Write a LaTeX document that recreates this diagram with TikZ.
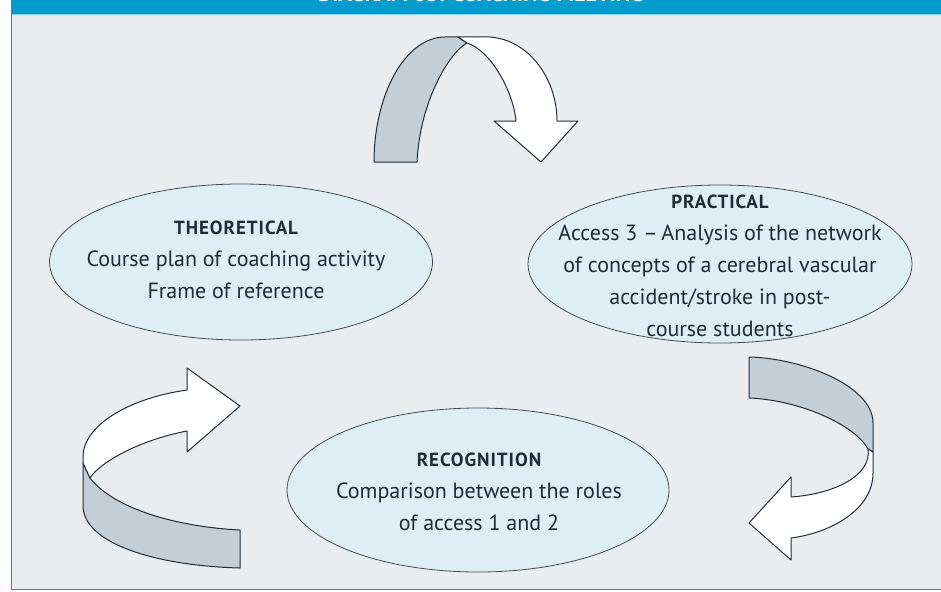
\documentclass[tikz,border=0pt]{standalone}
\usepackage{fontspec}
\setmainfont{PT Sans}
\usetikzlibrary{shapes.geometric}

\definecolor{hdr}{HTML}{009CCB}
\definecolor{hdrline}{HTML}{8FD0E6}
\definecolor{panel}{HTML}{E9EDF0}
\definecolor{bubblefill}{HTML}{DDEEF5}
\definecolor{ink}{HTML}{1E2B38}
\definecolor{band}{HTML}{C4CED6}
\definecolor{edge}{HTML}{1F2D3A}

\tikzset{
  bubble/.style={ellipse, draw=edge!85, line width=0.8pt, fill=bubblefill, inner sep=0pt},
  txt/.style={align=center, text=ink, inner sep=0pt, font=\fontsize{22}{32}\selectfont},
  backside/.style={fill=band, draw=edge, line width=1pt, line join=round},
  frontside/.style={fill=white, draw=edge, line width=1pt, line join=round},
}
\newcommand{\heading}[1]{{\bfseries\fontsize{19}{20}\selectfont\addfontfeatures{LetterSpace=5}#1}}

\begin{document}
\begin{tikzpicture}[x=1pt, y=-1pt]
  \useasboundingbox (0,0) rectangle (941,591);

  % panel and frame
  \fill[panel] (11.5,14) rectangle (941,589.5);
  \fill[hdr] (11,0) rectangle (941,14);
  \draw[hdrline, line width=1pt] (12,14.5) -- (941,14.5);
  \draw[hdr, line width=1.3pt] (11.5,14) -- (11.5,589.5) -- (945,589.5);

  % title strip (text runs past the top edge of the page)
  \begin{scope}
    \clip (0,0) rectangle (941,14);
    \node[anchor=base, text=white, inner sep=0pt,
          font=\bfseries\fontsize{22}{24}\selectfont] (title) at (481,2)
      {DIAGRAM 03: COACHING MEETING};
  \end{scope}

  % top ribbon arrow
  \draw[backside] (374,162) .. controls (374,95) and (405,37) .. (445,37)
    -- (458,37) -- (467,43) .. controls (450,52) and (420,100) .. (417,162) -- cycle;
  \draw[frontside] (458,37) -- (490,37) .. controls (530,40) and (557,80) .. (557,121)
    -- (578,121) -- (541,162) -- (494,121) -- (516,121)
    .. controls (513,90) and (490,50) .. (467,43) -- cycle;

  % right ribbon arrow
  \draw[backside] (749,357) .. controls (800,358) and (873,385) .. (873,423)
    -- (873,452) -- (868,449) .. controls (855,425) and (800,400) .. (749,398) -- cycle;
  \draw[frontside] (868,449) -- (873,452) -- (873,473)
    .. controls (873,510) and (830,533) .. (791,538)
    -- (791,560) -- (749,523) -- (791,477) -- (791,497)
    .. controls (835,494) and (872,475) .. (868,449) -- cycle;

  % left ribbon arrow
  \draw[backside] (83,463) -- (90,478) .. controls (115,510) and (180,527) .. (240,530)
    -- (240,568) .. controls (160,566) and (85,545) .. (83,507) -- cycle;
  \draw[frontside] (187,390) -- (187,368) -- (240,406) -- (187,452) -- (187,431)
    .. controls (140,440) and (100,462) .. (90,478) -- (83,463) -- (83,457)
    .. controls (83,425) and (130,398) .. (187,390) -- cycle;

  % stages
  \node[bubble, minimum width=383pt, minimum height=156pt] (theo) at (241,262) {};
  \node[txt] (theotext) at (236,260)
    {\heading{THEORETICAL}\\ Course plan of coaching activity\\ Frame of reference};

  \node[bubble, minimum width=384pt, minimum height=158pt] (prac) at (720,264) {};
  \node[txt] (practext) at (720,266)
    {\heading{PRACTICAL}\\ Access 3 --\,Analysis of the network\\ of concepts of a cerebral vascular\\
     accident/stroke in post-\\ course students};

  \node[bubble, minimum width=382pt, minimum height=164pt] (reco) at (478,490) {};
  \node[txt] (recotext) at (479,492)
    {\heading{RECOGNITION}\\ Comparison between the roles\\ of access 1 and 2};
\end{tikzpicture}
\end{document}
